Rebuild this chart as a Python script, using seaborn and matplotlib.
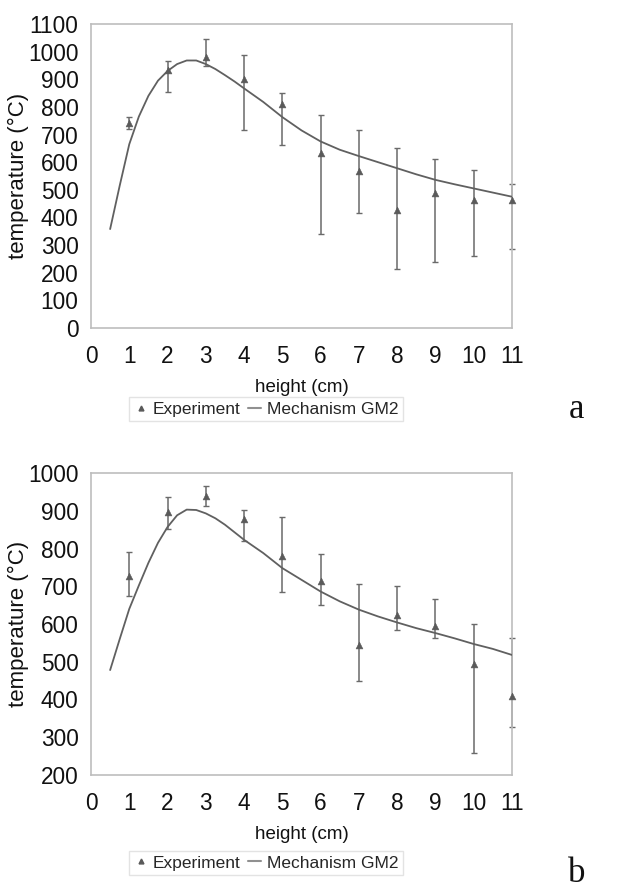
import numpy as np
import pandas as pd
import matplotlib
matplotlib.use("Agg")
import matplotlib.pyplot as plt
import seaborn as sns
from matplotlib.lines import Line2D

# ---- data ----
heights = [1, 2, 3, 4, 5, 6, 7, 8, 9, 10, 11]

exp_a = [742, 933, 980, 900, 810, 632, 567, 427, 488, 463, 463]
exp_a_hi = [765, 965, 1047, 988, 852, 770, 718, 651, 611, 571, 521]
exp_a_lo = [720, 855, 948, 718, 662, 340, 417, 214, 240, 260, 285]

exp_b = [728, 896, 940, 878, 781, 713, 545, 624, 595, 494, 408]
exp_b_hi = [790, 936, 966, 902, 883, 786, 706, 700, 667, 600, 564]
exp_b_lo = [673, 852, 913, 819, 686, 651, 448, 583, 564, 257, 326]

model_x = [0.5, 0.75, 1, 1.25, 1.5, 1.75, 2, 2.25, 2.5, 2.75, 3, 3.25, 3.5, 3.75,
           4, 4.5, 5, 5.5, 6, 6.5, 7, 7.5, 8, 8.5, 9, 9.5, 10, 10.5, 11]
model_a = [358, 515, 665, 765, 840, 895, 930, 955, 968, 968, 955, 937, 915, 892,
           867, 818, 763, 715, 675, 645, 622, 600, 578, 556, 536, 520, 505, 490, 475]
model_b = [478, 560, 640, 702, 762, 815, 857, 888, 903, 902, 893, 880, 863, 843,
           823, 788, 748, 717, 686, 660, 638, 620, 604, 589, 576, 562, 547, 534, 518]

x_ticks = list(range(0, 12))
y_ticks_a = list(range(0, 1101, 100))
y_ticks_b = list(range(200, 1001, 100))

panels = [
    dict(exp=exp_a, hi=exp_a_hi, lo=exp_a_lo, model=model_a, yt=y_ticks_a, tag="a"),
    dict(exp=exp_b, hi=exp_b_hi, lo=exp_b_lo, model=model_b, yt=y_ticks_b, tag="b"),
]

sns.set_style("white")
plt.rcParams["font.family"] = ["Liberation Sans", "DejaVu Sans"]

W, H = 621, 890
fig = plt.figure(figsize=(W / 100, H / 100), dpi=100)

boxes = [(91, 24, 512, 328), (91, 473, 512, 775)]
legend_y = [409, 863]
tag_y = [410, 874]

frame_col = "#bdbdbd"
mark_col = "#5a5a5a"
line_col = "#606060"

for p, (l, t, r, b), ly, ty in zip(panels, boxes, legend_y, tag_y):
    ax = fig.add_axes([l / W, 1 - b / H, (r - l) / W, (b - t) / H])
    dfm = pd.DataFrame({"height": model_x, "temp": p["model"]})
    sns.lineplot(data=dfm, x="height", y="temp", ax=ax, color=line_col, lw=1.3,
                 zorder=3)
    exp = np.array(p["exp"])
    yerr = np.vstack([exp - np.array(p["lo"]), np.array(p["hi"]) - exp])
    ax.errorbar(heights, exp, yerr=yerr, fmt="none", ecolor="#6a6a6a",
                elinewidth=1.1, capsize=2.5, capthick=1.0, zorder=2, clip_on=False)
    dfe = pd.DataFrame({"height": heights, "temp": p["exp"]})
    sns.scatterplot(data=dfe, x="height", y="temp", ax=ax, marker="^", s=24,
                    color=mark_col, edgecolor=mark_col, zorder=4, clip_on=False)
    ax.set_xlim(0, 11)
    ax.set_ylim(p["yt"][0], p["yt"][-1])
    ax.set_xticks(x_ticks)
    ax.set_yticks(p["yt"])
    for s in ax.spines.values():
        s.set_color(frame_col)
        s.set_linewidth(1.2)
    ax.tick_params(axis="both", which="major", direction="out", length=4,
                   width=1.0, color=frame_col, labelsize=16.3, labelcolor="#111111",
                   pad=5)
    ax.tick_params(axis="x", pad=8)
    ax.set_xlabel("height (cm)", fontsize=13.5, color="#111111", labelpad=8)
    ax.set_ylabel("temperature (°C)", fontsize=16, color="#111111")
    ax.yaxis.set_label_coords(-0.148, 0.5)

    handles = [
        Line2D([], [], marker="^", ls="none", color=mark_col, markersize=3.5),
        Line2D([], [], color="#909090", lw=1.5),
    ]
    leg = fig.legend(handles, ["Experiment", "Mechanism GM2"], ncol=2,
                     loc="center", bbox_to_anchor=(266 / W, 1 - ly / H),
                     frameon=True, fontsize=12.5, handlelength=0.8,
                     handletextpad=0.3, columnspacing=0.4, borderpad=0.25,
                     fancybox=False, edgecolor="#dddddd")
    leg.get_frame().set_linewidth(1.0)
    fig.text(577 / W, 1 - ty / H, p["tag"], fontsize=25,
             family=["Liberation Serif", "DejaVu Serif"], ha="center", va="center",
             color="#111111")

fig.savefig("out.png", dpi=100, facecolor="white")
